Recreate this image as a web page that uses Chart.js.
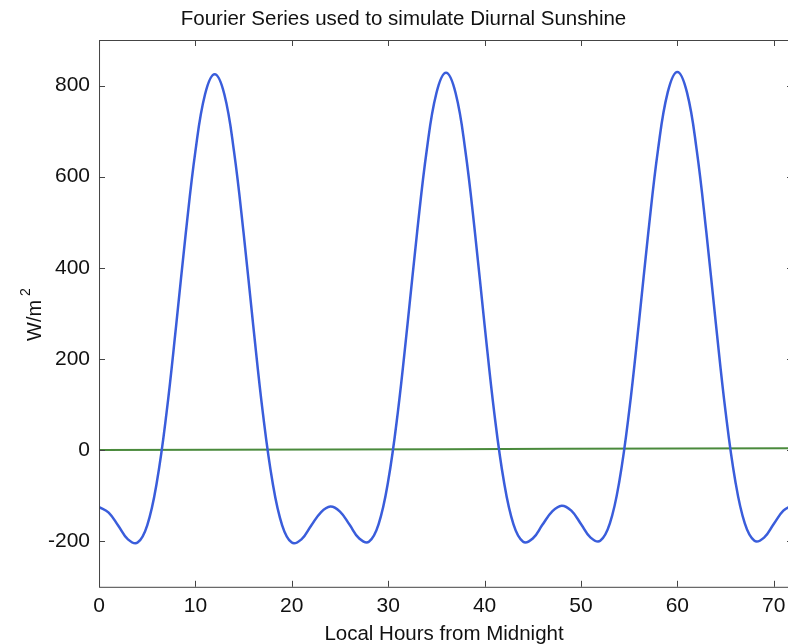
<!DOCTYPE html>
<html>
<head>
<meta charset="utf-8">
<script src="https://cdn.jsdelivr.net/npm/chart.js@4.4.0/dist/chart.umd.min.js"></script>
<style>
  html, body { margin: 0; padding: 0; background: #fff; overflow: hidden; }
  #wrap { width: 800px; height: 644px; }
</style>
</head>
<body>
<div id="wrap"><canvas id="sunChart" width="800" height="644"></canvas></div>
<script>
// hours from midnight, one sample per hour
const hours = [
  0, 1, 2, 3, 4, 5, 6, 7, 8, 9, 10, 11, 12, 13, 14, 15, 16, 17, 18, 19, 20, 21, 22, 23, 24,
  25, 26, 27, 28, 29, 30, 31, 32, 33, 34, 35, 36, 37, 38, 39, 40, 41, 42, 43, 44, 45, 46, 47, 48,
  49, 50, 51, 52, 53, 54, 55, 56, 57, 58, 59, 60, 61, 62, 63, 64, 65, 66, 67, 68, 69, 70, 71, 72
];
// fourier series sunshine (W/m2)
const sunshine = [
  -125, -137, -166, -196, -203, -165, -70, 81, 273, 476, 656, 781, 825, 781, 656, 476, 273, 81, -70, -165, -203, -196, -166, -137, -124,
  -135, -164, -194, -201, -163, -68, 83, 275, 478, 658, 783, 828, 783, 658, 478, 275, 83, -68, -163, -201, -194, -164, -135, -122,
  -133, -162, -192, -199, -161, -66, 85, 277, 480, 660, 785, 830, 785, 660, 480, 277, 85, -66, -161, -199, -192, -162, -133, -120
];
// near-zero green line
const baseHours = [0, 12, 24, 36, 48, 60, 72];
const baseValues = [0, 0.7, 1.3, 2, 2.7, 3.3, 4];

const xTicks = [0, 10, 20, 30, 40, 50, 60, 70];
const yTicks = [-200, 0, 200, 400, 600, 800];

const FONT = 'Liberation Sans, Arial, sans-serif';

// matlab style box with inward ticks, title and axis labels
const boxPlugin = {
    id: 'boxPlugin',
    afterDraw(chart) {
        const { ctx, chartArea: a, scales } = chart;
        const len = 6;
        ctx.save();
        ctx.strokeStyle = '#444';
        ctx.lineWidth = 1;
        ctx.strokeRect(a.left + 0.5, a.top + 0.5, a.right - a.left, a.bottom - a.top);
        ctx.beginPath();
        xTicks.forEach(v => {
            const px = Math.round(scales.x.getPixelForValue(v)) + 0.5;
            ctx.moveTo(px, a.bottom); ctx.lineTo(px, a.bottom - len);
            ctx.moveTo(px, a.top); ctx.lineTo(px, a.top + len);
        });
        yTicks.forEach(v => {
            const py = Math.round(scales.y.getPixelForValue(v)) + 0.5;
            ctx.moveTo(a.left, py); ctx.lineTo(a.left + len, py);
            ctx.moveTo(a.right, py); ctx.lineTo(a.right - len, py);
        });
        ctx.stroke();

        ctx.fillStyle = '#111';
        ctx.textBaseline = 'alphabetic';
        ctx.textAlign = 'center';
        ctx.font = '20.5px ' + FONT;
        ctx.fillText('Fourier Series used to simulate Diurnal Sunshine', 403.5, 25);
        ctx.fillText('Local Hours from Midnight', (a.left + a.right) / 2 - 2, 640);

        ctx.translate(41, 341);
        ctx.rotate(-Math.PI / 2);
        ctx.textAlign = 'left';
        ctx.font = '20px ' + FONT;
        ctx.fillText('W/m', 0, 0);
        const w = ctx.measureText('W/m').width;
        ctx.font = '14px ' + FONT;
        ctx.fillText('2', w + 4, -11);
        ctx.restore();
    }
};

const ctx = document.getElementById('sunChart').getContext('2d');
new Chart(ctx, {
    type: 'line',
    data: {
        datasets: [
            {
                label: 'sunshine',
                data: hours.map((h, i) => ({ x: h, y: sunshine[i] })),
                borderColor: '#3a5ddb',
                borderWidth: 2.5,
                pointRadius: 0,
                tension: 0.4
            },
            {
                label: 'mean',
                data: baseHours.map((h, i) => ({ x: h, y: baseValues[i] })),
                borderColor: '#4a8a3c',
                borderWidth: 2,
                pointRadius: 0
            }
        ]
    },
    options: {
        responsive: false,
        animation: false,
        layout: { padding: { left: 39, right: 7, top: 40, bottom: 18 } },
        plugins: {
            legend: { display: false },
            tooltip: { enabled: false },
            title: { display: false }
        },
        scales: {
            x: {
                type: 'linear',
                min: 0,
                max: 72,
                afterBuildTicks: s => { s.ticks = xTicks.map(v => ({ value: v })); },
                grid: { display: false, drawTicks: false },
                border: { display: false },
                ticks: { color: '#111', font: { family: FONT, size: 21 }, padding: 7, maxRotation: 0 }
            },
            y: {
                min: -300,
                max: 900,
                afterBuildTicks: s => { s.ticks = yTicks.map(v => ({ value: v })); },
                grid: { display: false, drawTicks: false },
                border: { display: false },
                ticks: { color: '#111', font: { family: FONT, size: 21 }, padding: 9 }
            }
        }
    },
    plugins: [boxPlugin]
});
</script>
</body>
</html>
